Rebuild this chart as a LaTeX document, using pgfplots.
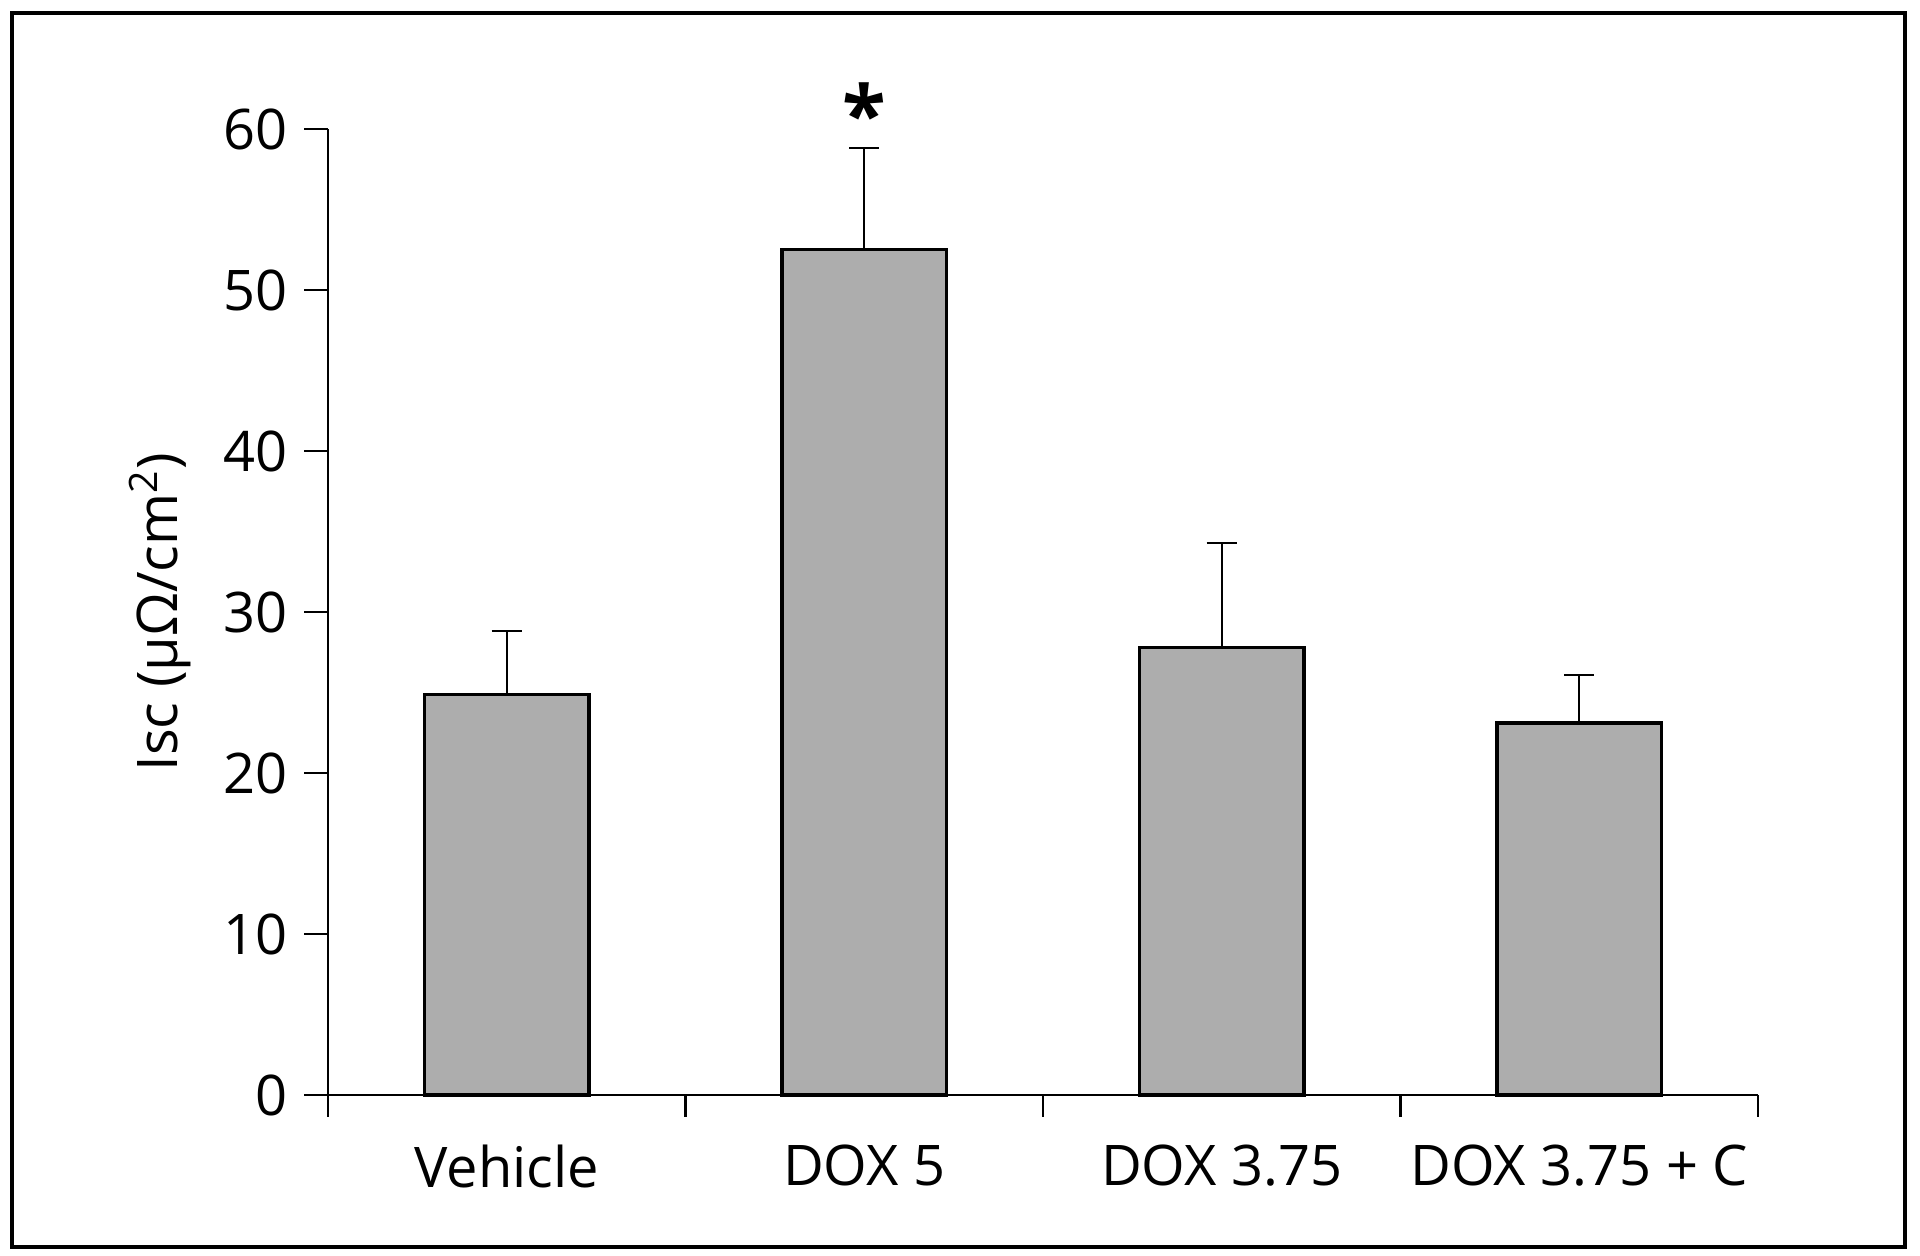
\documentclass[border=0pt]{standalone}
\usepackage{fontspec}
\setmainfont{Open Sans}
\usepackage{pgfplots}
\pgfplotsset{compat=1.18}

\definecolor{barfill}{HTML}{ADADAD}

\begin{document}
\begin{tikzpicture}[x=0.25pt,y=0.25pt]
% page = 1920 x 1255 px, 1 px = 0.25pt
\useasboundingbox (0,0) rectangle (1920,1255);
\draw[line width=0.9pt] (12,8) rectangle (1905,1242);

\begin{axis}[
    at={(82pt,40pt)}, anchor=south west,
    scale only axis,
    width=357.5pt, height=241.5pt,
    xmin=-0.5, xmax=3.5,
    ymin=0, ymax=60,
    axis lines=left,
    axis line style={line width=0.55pt, -},
    xtick={0,1,2,3},
    xticklabels={Vehicle, DOX 5, DOX 3.75, DOX 3.75 + C},
    major x tick style={draw=none},
    minor xtick={-0.5,0.5,1.5,2.5,3.5},
    minor tick length=5.5pt,
    major tick length=6pt,
    tick align=outside,
    tick style={line width=0.55pt, black},
    ytick={0,10,20,30,40,50,60},
    /pgf/number format/assume math mode=true,
    tick label style={font=\fontsize{14}{16}\selectfont},
    xticklabel style={yshift=-3pt},
    yticklabel style={xshift=-0.5pt},
    ylabel={Isc (μΩ/cm\textsuperscript{2})},
    ylabel style={font=\fontsize{14}{16}\selectfont,
        at={([xshift=-42pt]axis description cs:0,0.5)}, anchor=center},
    clip=false,
]
\addplot[ybar, bar width=0.46, fill=barfill, draw=black, line width=0.8pt,
    error bars/.cd, y dir=plus, y explicit,
    error bar style={line width=0.55pt, black},
    error mark options={rotate=90, line width=0.55pt, mark size=3.75pt, black}]
  coordinates {
    (0,24.9) +- (0,3.9)
    (1,52.5) +- (0,6.3)
    (2,27.8) +- (0,6.5)
    (3,23.1) +- (0,3.0)
  };
\node[font=\fontsize{20}{22}\selectfont\bfseries] at (axis cs:1,61.0) {*};
\end{axis}
\end{tikzpicture}
\end{document}
